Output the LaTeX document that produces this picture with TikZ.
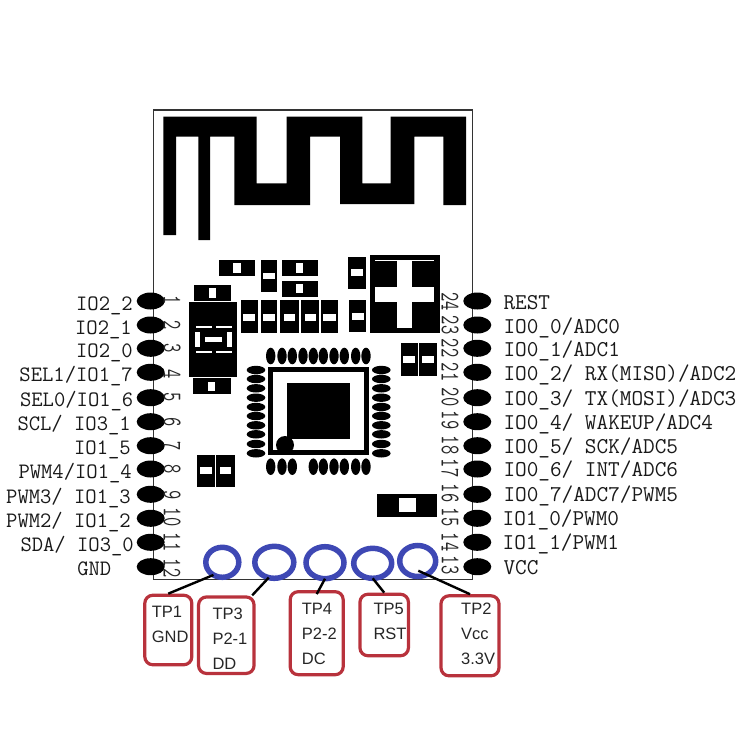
\documentclass[tikz,border=0pt]{standalone}
\usepackage{fontspec}
\setsansfont{Liberation Sans}
\usetikzlibrary{shapes.geometric}
\definecolor{ringblue}{RGB}{62,72,180}
\definecolor{boxred}{RGB}{184,50,60}
\tikzset{
    pinpad/.style={ellipse,fill=black,minimum width=28,minimum height=17,inner sep=0},
    pinname/.style={inner sep=0,text=black!90},
    leftname/.style={pinname,anchor=base east,font=\ttfamily\fontsize{22}{24}\selectfont},
    rightname/.style={pinname,anchor=base west,font=\ttfamily\fontsize{22.6}{24}\selectfont},
    pinnum/.style={inner sep=0,rotate=-90,yscale=1.5,transform shape,text=black!85,
        font=\ttfamily\fontsize{18}{20}\selectfont},
    ring/.style={ellipse,draw=ringblue,line width=5.5,inner sep=0,outer sep=0},
    tpbox/.style={draw=boxred,line width=3.2,rounded corners=8,inner sep=0},
    tptext/.style={inner sep=0,anchor=north west,align=left,text=black!85,
        font=\sffamily\fontsize{16.5}{25}\selectfont},
    lead/.style={line width=2.4},
    window/.style={fill=white}
}
\begin{document}
\begin{tikzpicture}[x=1pt,y=-1pt]
    \useasboundingbox (0,0) rectangle (750,750);

    % Board
    \draw [black!80,line width=1.1] (153.3,110) rectangle (472.5,579.5);

    % Antenna
    \fill (163.3,116.7) -- (256.7,116.7) -- (256.7,183.3) -- (286.7,183.3) -- (286.7,116.7)
        -- (362.3,116.7) -- (362.3,183.3) -- (390.7,183.3) -- (390.7,116.7) -- (466,116.7)
        -- (466,205) -- (443.3,205) -- (443.3,136.7) -- (414.3,136.7) -- (414.3,204)
        -- (340,204) -- (340,136.7) -- (310,136.7) -- (310,205) -- (234.3,205)
        -- (234.3,136.7) -- (210,136.7) -- (210,240) -- (198.3,240) -- (198.3,136.7)
        -- (176,136.7) -- (176,235) -- (163.3,235) -- cycle;

    % Upper pads
    \fill (219,260) rectangle (255.3,276);
    \fill [window] (233.3,263.3) rectangle (240.7,273.3);
    \fill (260.7,260) rectangle (277.3,292.3);
    \fill [window] (262.7,272.7) rectangle (275.3,279.3);
    \fill (281.7,260) rectangle (318.3,276);
    \fill [window] (296,263.3) rectangle (303.3,272.7);
    \fill (281.7,280.7) rectangle (318.3,296.7);
    \fill [window] (296,284) rectangle (303.3,293.3);
    \fill (348,256.7) rectangle (366,289.3);
    \fill [window] (351.3,269.3) rectangle (362.7,276);
    \fill (349,300) rectangle (366,332.3);
    \fill [window] (351.7,313.3) rectangle (363.7,320);

    % Row of five pads
    \fill (241,300) rectangle (258,333.3);
    \fill [window] (243.3,314) rectangle (255.3,320.7);
    \fill (260.7,300) rectangle (277.3,333.3);
    \fill [window] (262.7,314) rectangle (275.3,320.7);
    \fill (280.3,300) rectangle (299,333.3);
    \fill [window] (283.7,314) rectangle (295.3,320.7);
    \fill (301.3,300) rectangle (319,333.3);
    \fill [window] (304.7,314) rectangle (316,320.7);
    \fill (321,300) rectangle (338,333.3);
    \fill [window] (323.3,314) rectangle (335.7,320.7);

    % Crystal block
    \fill (370,254.7) rectangle (440,333.3);
    \fill [window] (375,286.7) rectangle (434,301.7);
    \fill [window] (396.7,260) rectangle (411.7,328.3);
    \fill [window] (375,259.5) rectangle (434,260.3);

    % Part beside the pins
    \fill (194.3,285) rectangle (231,300.7);
    \fill [window] (208.7,288.3) rectangle (216,297.7);
    \fill (189.3,302.3) rectangle (237,376.7);
    \fill [window] (195.7,326) rectangle (211.7,327.7);
    \fill [window] (216,326) rectangle (231.7,327.7);
    \fill [window] (195.7,351) rectangle (211.7,352.7);
    \fill [window] (216,351) rectangle (231.7,352.7);
    \fill [window] (195.3,331.7) rectangle (200.3,346.7);
    \fill [window] (227,331.7) rectangle (232,346.7);
    \fill [window] (205,337.3) rectangle (221.7,342);
    \fill (193.3,378.3) rectangle (231,394);
    \fill [window] (207.7,381.7) rectangle (215,391);

    % Loose pads
    \fill (400.7,343.3) rectangle (418,375.7);
    \fill [window] (403.3,356) rectangle (415.3,362.7);
    \fill (419.3,343.3) rectangle (437.3,375.7);
    \fill [window] (422.3,356) rectangle (434,362.7);
    \fill (196.7,455) rectangle (214.7,487.3);
    \fill [window] (200,467.3) rectangle (211.7,474);
    \fill (216.3,455) rectangle (234.7,487.3);
    \fill [window] (219.7,467.3) rectangle (231.3,474);
    \fill (377.3,494) rectangle (437.3,517.3);
    \fill [window] (399.3,498.3) rectangle (416,512.3);

    % Chip
    \draw [line width=5] (270.5,369.8) rectangle (366.2,452);
    \fill (286.7,383.3) rectangle (350.3,439.3);
    \fill (285,445) circle [radius=9];
    \fill [x radius=4.7,y radius=8.3] (270.7,356) circle [] (282,356) circle [] (292.3,356) circle []
        (303,356) circle [] (313.3,356) circle [] (323.3,356) circle [] (334,356) circle []
        (344.3,356) circle [] (355.7,356) circle [] (366,356) circle [];
    \fill [x radius=4.7,y radius=8.3] (270.7,466.7) circle [] (282,466.7) circle [] (292.3,466.7) circle []
        (313.3,466.7) circle [] (323.3,466.7) circle [] (334,466.7) circle []
        (344.3,466.7) circle [] (355.7,466.7) circle [] (366,466.7) circle [];
    \fill [x radius=9.3,y radius=4.2] (256,370) circle [] (256,379) circle [] (256,388.3) circle []
        (256,397.7) circle [] (256,407) circle [] (256,416) circle [] (256,425.3) circle []
        (256,434.3) circle [] (256,444) circle [] (256,453.3) circle [];
    \fill [x radius=9.3,y radius=4.2] (381.3,370) circle [] (381.3,379) circle [] (381.3,388.3) circle []
        (381.3,397.7) circle [] (381.3,407) circle [] (381.3,416) circle [] (381.3,425.3) circle []
        (381.3,434.3) circle [] (381.3,444) circle [] (381.3,453.3) circle [];

    % Left pins
    \node (P1) at (150.7,301) [pinpad] {};
    \node (P2) at (150.7,325) [pinpad] {};
    \node (P3) at (150.7,348.3) [pinpad] {};
    \node (P4) at (150.7,372.3) [pinpad] {};
    \node (P5) at (150.7,397.7) [pinpad] {};
    \node (P6) at (150.7,421.7) [pinpad] {};
    \node (P7) at (150.7,445.7) [pinpad] {};
    \node (P8) at (150.7,469) [pinpad] {};
    \node (P9) at (150.7,494.3) [pinpad] {};
    \node (P10) at (150.7,518.3) [pinpad] {};
    \node (P11) at (150.7,542.3) [pinpad] {};
    \node (P12) at (150.7,566.7) [pinpad] {};

    % Right pins
    \node (P24) at (477.3,301) [pinpad] {};
    \node (P23) at (477.3,325) [pinpad] {};
    \node (P22) at (477.3,348.3) [pinpad] {};
    \node (P21) at (477.3,372.3) [pinpad] {};
    \node (P20) at (477.3,397.7) [pinpad] {};
    \node (P19) at (477.3,421.7) [pinpad] {};
    \node (P18) at (477.3,445.7) [pinpad] {};
    \node (P17) at (477.3,469) [pinpad] {};
    \node (P16) at (477.3,494.3) [pinpad] {};
    \node (P15) at (477.3,518.3) [pinpad] {};
    \node (P14) at (477.3,542.3) [pinpad] {};
    \node (P13) at (477.3,566.7) [pinpad] {};

    % Pin numbers
    \node (N1) at (172,300) [pinnum] {1};
    \node (N2) at (172,325) [pinnum] {2};
    \node (N3) at (172,348) [pinnum] {3};
    \node (N4) at (172,374) [pinnum] {4};
    \node (N5) at (172,397) [pinnum] {5};
    \node (N6) at (172,422) [pinnum] {6};
    \node (N7) at (172,446) [pinnum] {7};
    \node (N8) at (172,469) [pinnum] {8};
    \node (N9) at (172,495) [pinnum] {9};
    \node (N10) at (172,517) [pinnum] {10};
    \node (N11) at (172,542) [pinnum] {11};
    \node (N12) at (172,568) [pinnum] {12};
    \node (N24) at (450,301.7) [pinnum] {24};
    \node (N23) at (450,325) [pinnum] {23};
    \node (N22) at (450,348) [pinnum] {22};
    \node (N21) at (450,372) [pinnum] {21};
    \node (N20) at (450,397) [pinnum] {20};
    \node (N19) at (450,420) [pinnum] {19};
    \node (N18) at (450,445) [pinnum] {18};
    \node (N17) at (450,468) [pinnum] {17};
    \node (N16) at (450,493) [pinnum] {16};
    \node (N15) at (450,517) [pinnum] {15};
    \node (N14) at (450,542) [pinnum] {14};
    \node (N13) at (450,565) [pinnum] {13};

    % Left pin names
    \node (L1) at (133,310.5) [leftname] {IO2\_2};
    \node (L2) at (132,334) [leftname] {IO2\_1};
    \node (L3) at (133,357.5) [leftname] {IO2\_0};
    \node (L4) at (133,381.5) [leftname] {SEL1/IO1\_7};
    \node (L5) at (133.5,406.5) [leftname] {SEL0/IO1\_6};
    \node (L6) at (131,430.5) [leftname] {SCL/ IO3\_1};
    \node (L7) at (131,454.5) [leftname] {IO1\_5};
    \node (L8) at (132,478.5) [leftname] {PWM4/IO1\_4};
    \node (L9) at (131,503.5) [leftname] {PWM3/ IO1\_3};
    \node (L10) at (131,527.5) [leftname] {PWM2/ IO1\_2};
    \node (L11) at (134,551.5) [leftname] {SDA/ IO3\_0};
    \node (L12) at (111.5,575.5) [leftname] {GND};

    % Right pin names
    \node (L24) at (503.3,309.5) [rightname] {REST};
    \node (L23) at (503.3,333.5) [rightname] {IO0\_0/ADC0};
    \node (L22) at (503.3,356.5) [rightname] {IO0\_1/ADC1};
    \node (L21) at (503.3,380.5) [rightname] {IO0\_2/ RX(MISO)/ADC2};
    \node (L20) at (503.3,405.5) [rightname] {IO0\_3/ TX(MOSI)/ADC3};
    \node (L19) at (503.3,429.5) [rightname] {IO0\_4/ WAKEUP/ADC4};
    \node (L18) at (503.3,453.5) [rightname] {IO0\_5/ SCK/ADC5};
    \node (L17) at (503.3,476.5) [rightname] {IO0\_6/ INT/ADC6};
    \node (L16) at (503.3,501.5) [rightname] {IO0\_7/ADC7/PWM5};
    \node (L15) at (502.5,525.5) [rightname] {IO1\_0/PWM0};
    \node (L14) at (502.5,549.5) [rightname] {IO1\_1/PWM1};
    \node (L13) at (503.3,574.5) [rightname] {VCC};

    % Test points
    \node (R1) at (222.3,562.3) [ring,minimum width=33,minimum height=30] {};
    \node (R2) at (274.3,562.3) [ring,minimum width=39,minimum height=32] {};
    \node (R3) at (325,562.7) [ring,minimum width=38,minimum height=32] {};
    \node (R4) at (372.7,563.3) [ring,minimum width=38,minimum height=30] {};
    \node (R5) at (417.7,561) [ring,minimum width=36,minimum height=31] {};
    \coordinate (R5end) at (418.3,570.7);

    % Labels under the board
    \node (TP1) at (168.3,630) [tpbox,minimum width=47,minimum height=69.5] {};
    \node (TP3) at (226.3,635.2) [tpbox,minimum width=55.5,minimum height=76.5] {};
    \node (TP4) at (316.7,633.2) [tpbox,minimum width=53,minimum height=83] {};
    \node (TP5) at (384.2,625) [tpbox,minimum width=48.5,minimum height=61.5] {};
    \node (TP2) at (470,635.8) [tpbox,minimum width=58,minimum height=80] {};
    \node (T1) at (151.7,606) [tptext] {TP1\\GND};
    \node (T3) at (212.3,607.3) [tptext] {TP3\\P2-1\\DD};
    \node (T4) at (301.7,602.7) [tptext] {TP4\\P2-2\\DC};
    \node (T5) at (373.3,602.7) [tptext] {TP5\\RST};
    \node (T2) at (461,602.7) [tptext] {TP2\\Vcc\\3.3V};

    % Leads
    \draw [lead] (TP1.north) -- (R1.235);
    \draw [lead] (TP3.57) -- (R2.250);
    \draw [lead] ([yshift=-4]TP4.north) -- (R3.south);
    \draw [lead] (TP5.north) -- (R4.south);
    \draw [lead] (TP2.north) -- (R5end);
\end{tikzpicture}
\end{document}
